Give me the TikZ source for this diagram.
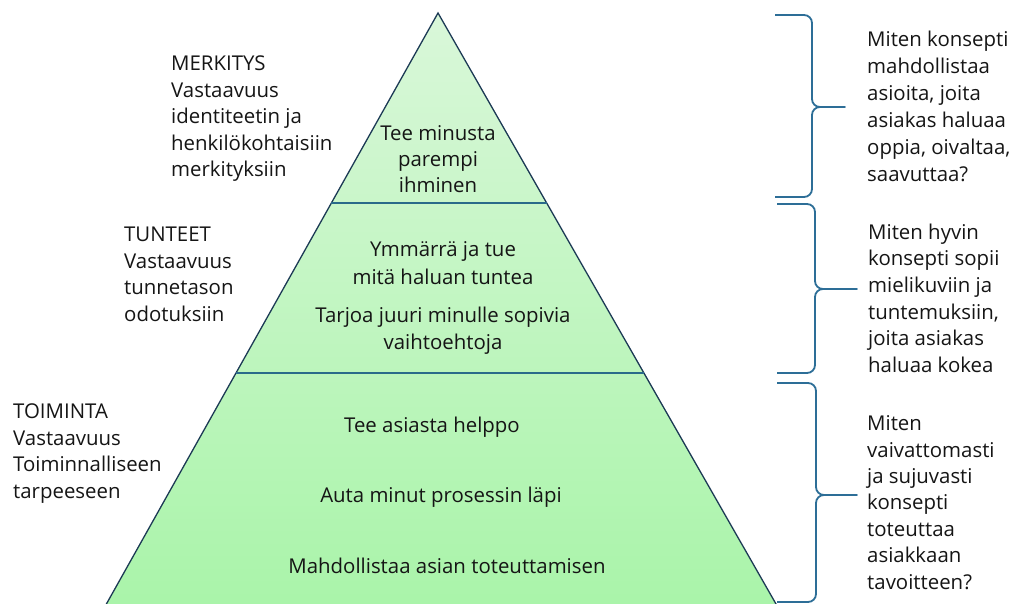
\documentclass[tikz,border=0pt]{standalone}
\usepackage{fontspec}
\setmainfont{Open Sans}
\definecolor{txt}{HTML}{151515}
\definecolor{edge}{HTML}{1C3A55}
\definecolor{divider}{HTML}{2A6A8A}
\definecolor{bracec}{HTML}{2D6E97}
\definecolor{gtop}{HTML}{D9F7D9}
\definecolor{gbot}{HTML}{A9F4A9}
\newcommand\drawbrace[6]{% xl xv xt yT ym yB
  \draw[bracestyle] (#1,#4) -- ({#2-8},#4) to[out=0,in=90] (#2,{#4+8}) -- (#2,{#5-8})
    to[out=-90,in=180] ({#2+8},#5) -- (#3,#5) -- ({#2+8},#5)
    to[out=180,in=90] (#2,{#5+8}) -- (#2,{#6-8}) to[out=-90,in=0] ({#2-8},#6) -- (#1,#6);}
\begin{document}
\begin{tikzpicture}[x=1pt,y=-1pt,
  lbl/.style={inner sep=0pt,text=txt,align=left,font=\fontsize{20.4}{26.5}\selectfont},
  ptxt/.style={inner sep=0pt,text=txt,align=center,font=\fontsize{20.4}{27}\selectfont},
  bracestyle/.style={draw=bracec,line width=1.8pt,line join=round},
  outline/.style={draw=edge,line width=1.3pt},
  divline/.style={draw=divider,line width=2pt}]
\useasboundingbox (0,0) rectangle (1023,604);
% pyramid
\coordinate (apex) at (438,13);
\coordinate (l1) at (331.4,203);
\coordinate (r1) at (546.7,203);
\coordinate (l2) at (236.0,373);
\coordinate (r2) at (643.9,373);
\coordinate (lb) at (101.9,612);
\coordinate (rb) at (780.6,612);
\shade[top color=gtop,bottom color=gbot] (apex) -- (rb) -- (lb) -- cycle;
\draw[outline] (lb) -- (apex) -- (rb);
\draw[divline] (l1) -- (r1);
\draw[divline] (l2) -- (r2);
% pyramid texts
\node[ptxt,anchor=north,font=\fontsize{20.4}{26}\selectfont] (t1) at (438,125) {Tee minusta\\parempi\\ihminen};
\node[ptxt,anchor=north,font=\fontsize{20.4}{28}\selectfont] (t2) at (443,241) {Ymmärrä ja tue\\mitä haluan tuntea};
\node[ptxt,anchor=north] (t3) at (443,307) {Tarjoa juuri minulle sopivia\\vaihtoehtoja};
\node[ptxt,anchor=base] (t4) at (432,432) {Tee asiasta helppo};
\node[ptxt,anchor=base] (t5) at (441,502) {Auta minut prosessin läpi};
\node[ptxt,anchor=base] (t6) at (447,573) {Mahdollistaa asian toteuttamisen};
% left labels
\node[lbl,anchor=north west] (merk) at (171,56) {MERKITYS\\Vastaavuus\\identiteetin ja\\henkilökohtaisiin\\merkityksiin};
\node[lbl,anchor=north west] (tunt) at (124,227) {TUNTEET\\Vastaavuus\\tunnetason\\odotuksiin};
\node[lbl,anchor=north west] (toim) at (13,404) {TOIMINTA\\Vastaavuus\\Toiminnalliseen\\tarpeeseen};
% braces
\drawbrace{775}{812}{845}{15}{107}{197}
\drawbrace{777}{815}{857}{204}{289}{373}
\drawbrace{777}{816}{857}{383}{495}{602}
% right texts
\node[lbl,anchor=north west,font=\fontsize{20.4}{27}\selectfont] (q1) at (867,30.5) {Miten konsepti\\mahdollistaa\\asioita, joita\\asiakas haluaa\\oppia, oivaltaa,\\saavuttaa?};
\node[lbl,anchor=north west,font=\fontsize{20.4}{26.6}\selectfont] (q2) at (868,223.5) {Miten hyvin\\konsepti sopii\\mielikuviin ja\\tuntemuksiin,\\joita asiakas\\haluaa kokea};
\node[lbl,anchor=north west,font=\fontsize{20.4}{26.4}\selectfont] (q3) at (867,415.5) {Miten\\vaivattomasti\\ja sujuvasti\\konsepti\\toteuttaa\\asiakkaan\\tavoitteen?};
\end{tikzpicture}
\end{document}
